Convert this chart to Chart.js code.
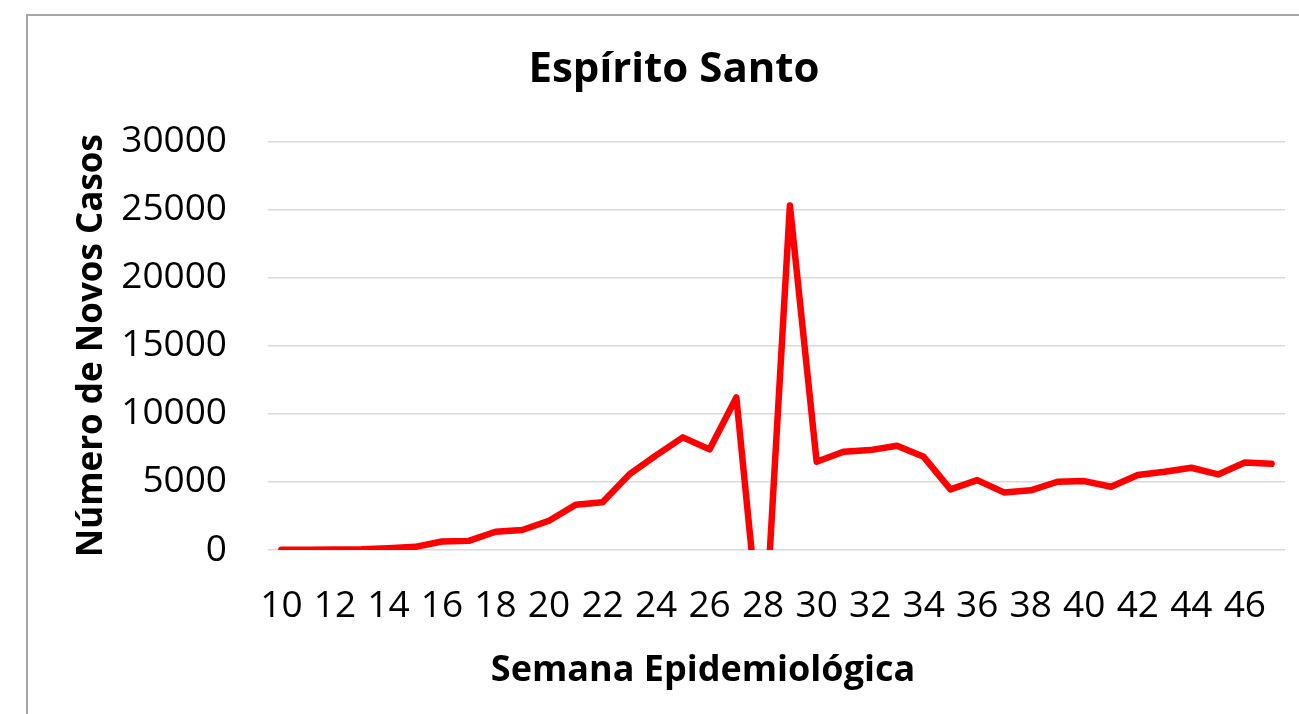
<!DOCTYPE html>
<html>
<head>
<meta charset="utf-8">
<script src="https://cdn.jsdelivr.net/npm/chart.js@4/dist/chart.umd.min.js"></script>
<style>
  html, body { margin: 0; padding: 0; background: #fff; overflow: hidden; }
  #frame { position: absolute; left: 26px; top: 14px; width: 1400px; height: 800px;
           border-top: 2px solid #a6a6a6; border-left: 2px solid #a6a6a6; }
  #chart { position: absolute; left: 0; top: 0; }
</style>
</head>
<body>
<div id="frame"></div>
<canvas id="chart" width="1299" height="714"></canvas>
<script>
/* Espírito Santo · novos casos por semana epidemiológica */

const weeks = [10, 11, 12, 13, 14, 15, 16, 17, 18, 19, 20, 21, 22, 23, 24, 25, 26, 27, 28,
  29, 30, 31, 32, 33, 34, 35, 36, 37, 38, 39, 40, 41, 42, 43, 44, 45, 46, 47];
const newCases = [10, 20, 40, 50, 120, 230, 620, 670, 1340, 1470, 2150, 3320, 3500, 5550,
  6950, 8270, 7390, 11200, -8600, 25300, 6480, 7210, 7335, 7650, 6840, 4450, 5130, 4230,
  4380, 5010, 5060, 4640, 5500, 5740, 6040, 5550, 6430, 6330];
const yTicks = [0, 5000, 10000, 15000, 20000, 25000, 30000];

const chartTitle = 'Espírito Santo';
const xTitle = 'Semana Epidemiológica';
const yTitle = 'Número de Novos Casos';

const FONT = '"Open Sans", "Noto Sans", sans-serif';

/* título do eixo X: no Excel não fica centrado na área do gráfico */
const xTitlePlugin = {
  id: 'xTitle',
  afterDraw(chart) {
    const { ctx } = chart;
    ctx.save();
    ctx.font = `bold 36px ${FONT}`;
    ctx.fillStyle = '#000';
    ctx.textAlign = 'center';
    ctx.textBaseline = 'middle';
    ctx.fillText(xTitle, 703, 671);
    ctx.restore();
  },
};

new Chart(document.getElementById('chart'), {
  type: 'line',
  data: {
    labels: weeks,
    datasets: [{
      data: newCases,
      borderColor: '#ff0000',
      borderWidth: 6.5,
      borderCapStyle: 'round',
      borderJoinStyle: 'round',
      pointRadius: 0,
      tension: 0,
    }],
  },
  options: {
    responsive: false,
    animation: false,
    devicePixelRatio: 1,
    layout: { padding: { left: 63, right: 14, top: 0, bottom: 0 } },
    plugins: {
      legend: { display: false },
      tooltip: { enabled: false },
      title: {
        display: true,
        text: chartTitle,
        color: '#000',
        font: { family: FONT, size: 42, weight: 'bold' },
        padding: { top: 45, bottom: 46 },
      },
    },
    scales: {
      x: {
        offset: true,
        // espaço sob o eixo via tickLength (ticks.padding empurra a área do gráfico)
        grid: { display: false, drawTicks: true, tickLength: 34 },
        border: { display: false },
        ticks: {
          autoSkip: false,
          maxRotation: 0,
          padding: 0,
          color: '#000',
          font: { family: FONT, size: 37 },
          callback: (v, i) => (weeks[i] % 2 === 0 ? String(weeks[i]) : ''),
        },
        afterFit: (s) => { s.height = 164; },
      },
      y: {
        min: 0,
        max: 30000,
        afterBuildTicks: (s) => { s.ticks = yTicks.map((v) => ({ value: v })); },
        grid: { color: '#d9d9d9', lineWidth: 1.5, drawTicks: false, tickLength: 0 },
        border: { display: false },
        ticks: {
          padding: 41,
          color: '#000',
          font: { family: FONT, size: 37 },
          callback: (v) => String(v),
        },
        title: {
          display: true,
          text: yTitle,
          color: '#000',
          font: { family: FONT, size: 35, weight: 'bold' },
          padding: { top: 8, bottom: 0 },
        },
        afterFit: (s) => { s.width = 205; },
      },
    },
  },
  plugins: [xTitlePlugin],
});
</script>
</body>
</html>
